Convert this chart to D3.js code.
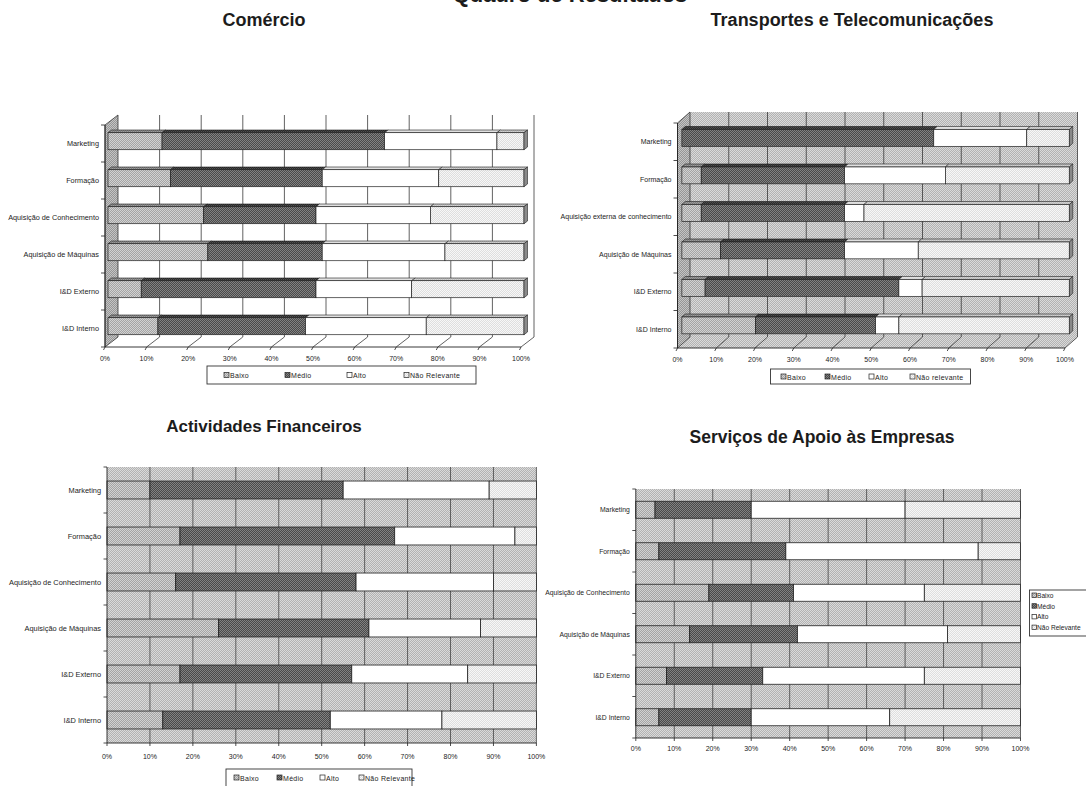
<!DOCTYPE html>
<html>
<head>
<meta charset="utf-8">
<script src="https://cdn.jsdelivr.net/npm/d3@7"></script>
<style>
  body { margin: 0; background: #fff; }
  svg { display: block; }
  text { font-family: "Liberation Sans", Arial, sans-serif; fill: #1c1c1c; }
</style>
</head>
<body>
<svg id="chart" width="1086" height="786"></svg>
<script>
// ---- data ----
const categories = ["Marketing", "Formação", "Aquisição de Conhecimento", "Aquisição de Máquinas", "I&D Externo", "I&D Interno"];
const categoriesTransportes = ["Marketing", "Formação", "Aquisição externa de conhecimento", "Aquisição de Máquinas", "I&D Externo", "I&D Interno"];
const seriesNames = ["Baixo", "Médio", "Alto", "Não Relevante"];
const seriesNamesTransportes = ["Baixo", "Médio", "Alto", "Não relevante"];
const tickValues = [0, 10, 20, 30, 40, 50, 60, 70, 80, 90, 100];

// Comércio (%)
const comercioBaixo = [13, 15, 23, 24, 8, 12];
const comercioMedio = [53.5, 36.5, 27, 27.5, 42, 35.5];
const comercioAlto = [27, 28, 27.5, 29.5, 23, 29];
const comercioNaoRelevante = [6.5, 20.5, 22.5, 19, 27, 23.5];

// Transportes e Telecomunicações (%)
const transportesBaixo = [0, 5, 5, 10, 6, 19];
const transportesMedio = [65, 37, 37, 32, 50, 31];
const transportesAlto = [24, 26, 5, 19, 6, 6];
const transportesNaoRelevante = [11, 32, 53, 39, 38, 44];

// Actividades Financeiros (%)
const financeirosBaixo = [10, 17, 16, 26, 17, 13];
const financeirosMedio = [45, 50, 42, 35, 40, 39];
const financeirosAlto = [34, 28, 32, 26, 27, 26];
const financeirosNaoRelevante = [11, 5, 10, 13, 16, 22];

// Serviços de Apoio às Empresas (%)
const servicosBaixo = [5, 6, 19, 14, 8, 6];
const servicosMedio = [25, 33, 22, 28, 25, 24];
const servicosAlto = [40, 50, 34, 39, 42, 36];
const servicosNaoRelevante = [30, 11, 25, 19, 25, 34];

// ---- setup ----
const svg = d3.select("#chart");
const defs = svg.append("defs");

function checker(id, c1, c2) {
  const p = defs.append("pattern").attr("id", id)
    .attr("width", 2).attr("height", 2).attr("patternUnits", "userSpaceOnUse");
  p.append("rect").attr("width", 2).attr("height", 2).attr("fill", c1);
  p.append("rect").attr("width", 1).attr("height", 1).attr("fill", c2);
  p.append("rect").attr("x", 1).attr("y", 1).attr("width", 1).attr("height", 1).attr("fill", c2);
}
checker("pBaixo", "#a4a4a4", "#d2d2d2");
checker("pMedio", "#4a4a4a", "#828282");
checker("pNR", "#dedede", "#f7f7f7");
checker("pBg", "#b2b2b2", "#dadada");
checker("pWall", "#969696", "#c4c4c4");

const fills = ["url(#pBaixo)", "url(#pMedio)", "#ffffff", "url(#pNR)"];
const topShade = [0.25, 0.4, 0.12, 0.15];
const fmt = d => d + "%";

function stackRows(cats, arrays, names) {
  const rows = cats.map((c, i) => {
    const r = { cat: c };
    names.forEach((n, k) => { r[n] = arrays[k][i]; });
    return r;
  });
  return d3.stack().keys(names)(rows);
}

function title(txt, x, y, size) {
  svg.append("text").attr("x", x).attr("y", y).attr("text-anchor", "middle")
    .attr("font-size", size).attr("font-weight", "bold").attr("fill", "#111").text(txt);
}

function legendRow(names, xs, boxX, boxY, boxW, boxH, textY) {
  const g = svg.append("g");
  g.append("rect").attr("x", boxX).attr("y", boxY).attr("width", boxW).attr("height", boxH)
    .attr("fill", "#fff").attr("stroke", "#333").attr("stroke-width", 0.9);
  names.forEach((n, k) => {
    g.append("rect").attr("x", xs[k]).attr("y", textY - 5.5).attr("width", 5).attr("height", 5)
      .attr("fill", fills[k]).attr("stroke", "#222").attr("stroke-width", 0.7);
    g.append("text").attr("x", xs[k] + 6).attr("y", textY).attr("font-size", 7)
      .attr("letter-spacing", 0.3).text(n);
  });
}

// ---- 3D stacked bars ----
function draw3D(cfg) {
  const g = svg.append("g");
  const x = d3.scaleLinear().domain([0, 100]).range([cfg.ax0, cfg.ax1]);
  const y = d3.scaleBand().domain(cfg.cats).range([cfg.yTop, cfg.yBot]);
  const { dx, dy } = cfg;

  // walls and floor
  g.append("rect").attr("x", x(0) + dx).attr("y", cfg.yTop + dy)
    .attr("width", x(100) - x(0)).attr("height", cfg.yBot - cfg.yTop).attr("fill", cfg.backFill);
  g.append("polygon").attr("points", [
    [x(0), cfg.yBot], [x(100), cfg.yBot], [x(100) + dx, cfg.yBot + dy], [x(0) + dx, cfg.yBot + dy]
  ].join(" ")).attr("fill", cfg.floorFill);
  g.append("polygon").attr("points", [
    [x(0), cfg.yTop], [x(0) + dx, cfg.yTop + dy], [x(0) + dx, cfg.yBot + dy], [x(0), cfg.yBot]
  ].join(" ")).attr("fill", cfg.wallFill).attr("stroke", "#333").attr("stroke-width", 0.8);

  // gridlines on back wall and floor
  g.selectAll(".gb").data(tickValues.slice(1)).join("line")
    .attr("x1", d => x(d) + dx).attr("x2", d => x(d) + dx)
    .attr("y1", cfg.yTop + dy).attr("y2", cfg.yBot + dy)
    .attr("stroke", "#3a3a3a").attr("stroke-width", 0.8);
  g.selectAll(".gf").data(tickValues.slice(1)).join("line")
    .attr("x1", d => x(d)).attr("x2", d => x(d) + dx)
    .attr("y1", cfg.yBot).attr("y2", cfg.yBot + dy)
    .attr("stroke", "#3a3a3a").attr("stroke-width", 0.8);

  // axes
  g.append("line").attr("x1", x(0)).attr("x2", x(0)).attr("y1", cfg.yTop).attr("y2", cfg.yBot)
    .attr("stroke", "#222").attr("stroke-width", 0.9);
  g.append("line").attr("x1", x(0)).attr("x2", x(100)).attr("y1", cfg.yBot).attr("y2", cfg.yBot)
    .attr("stroke", "#222").attr("stroke-width", 0.9);
  const bounds = d3.range(cfg.cats.length + 1).map(i => cfg.yTop + i * y.step());
  g.selectAll(".tl").data(bounds).join("line")
    .attr("x1", x(0) - 4).attr("x2", x(0)).attr("y1", d => d).attr("y2", d => d)
    .attr("stroke", "#222").attr("stroke-width", 0.8);
  g.selectAll(".tb").data(tickValues).join("line")
    .attr("x1", d => x(d)).attr("x2", d => x(d) - 1.5).attr("y1", cfg.yBot).attr("y2", cfg.yBot + 3)
    .attr("stroke", "#222").attr("stroke-width", 0.8);
  g.selectAll(".tx").data(tickValues).join("text")
    .attr("x", d => x(d)).attr("y", cfg.yBot + 13.5).attr("text-anchor", "middle")
    .attr("font-size", 7).text(fmt);
  g.selectAll(".cl").data(cfg.cats).join("text")
    .attr("x", x(0) - 6).attr("y", d => y(d) + y.step() / 2 + 2.5).attr("text-anchor", "end")
    .attr("font-size", cfg.labelSize).text(d => d);

  // bars
  const stacked = stackRows(cfg.cats, cfg.series, cfg.names);
  const bh = y.bandwidth() * cfg.barFrac;
  const ox = cfg.f1 * dx, oy = cfg.f1 * dy;
  const ddx = (cfg.f2 - cfg.f1) * dx, ddy = (cfg.f2 - cfg.f1) * dy;
  stacked.forEach((layer, k) => {
    layer.forEach(d => {
      if (d[1] - d[0] <= 0) return;
      const cat = d.data.cat;
      const x0 = x(d[0]) + ox, x1 = x(d[1]) + ox;
      const yt = y(cat) + y.bandwidth() / 2 + oy - bh / 2;
      const topPts = [[x0, yt], [x1, yt], [x1 + ddx, yt + ddy], [x0 + ddx, yt + ddy]].join(" ");
      g.append("polygon").attr("points", topPts).attr("fill", fills[k])
        .attr("stroke", "#222").attr("stroke-width", 0.6);
      g.append("polygon").attr("points", topPts).attr("fill", "#000").attr("fill-opacity", topShade[k]);
      g.append("rect").attr("x", x0).attr("y", yt).attr("width", x1 - x0).attr("height", bh)
        .attr("fill", fills[k]).attr("stroke", "#222").attr("stroke-width", 0.7);
      if (k === stacked.length - 1) {
        g.append("polygon").attr("points", [[x1, yt], [x1 + ddx, yt + ddy], [x1 + ddx, yt + ddy + bh], [x1, yt + bh]].join(" "))
          .attr("fill", "#8a8a8a").attr("stroke", "#222").attr("stroke-width", 0.6);
      }
    });
  });
}

// ---- flat stacked bars ----
function draw2D(cfg) {
  const g = svg.append("g");
  const x = d3.scaleLinear().domain([0, 100]).range([cfg.x0, cfg.x1]);
  const y = d3.scaleBand().domain(cfg.cats).range([cfg.yTop, cfg.yBot]);

  g.append("rect").attr("x", x(0)).attr("y", cfg.yTop).attr("width", x(100) - x(0))
    .attr("height", cfg.yBot - cfg.yTop).attr("fill", "url(#pBg)");
  g.selectAll(".gv").data(tickValues.slice(1)).join("line")
    .attr("x1", d => x(d)).attr("x2", d => x(d)).attr("y1", cfg.yTop).attr("y2", cfg.yBot)
    .attr("stroke", "#444").attr("stroke-width", 0.8);

  const stacked = stackRows(cfg.cats, cfg.series, cfg.names);
  const bh = y.bandwidth() * cfg.barFrac;
  stacked.forEach((layer, k) => {
    g.selectAll(null).data(layer.filter(d => d[1] > d[0])).join("rect")
      .attr("x", d => x(d[0])).attr("width", d => x(d[1]) - x(d[0]))
      .attr("y", d => y(d.data.cat) + (y.bandwidth() - bh) / 2).attr("height", bh)
      .attr("fill", fills[k]).attr("stroke", "#222").attr("stroke-width", 0.8);
  });

  g.append("line").attr("x1", x(0)).attr("x2", x(0)).attr("y1", cfg.yTop).attr("y2", cfg.yBot)
    .attr("stroke", "#222").attr("stroke-width", 0.9);
  g.append("line").attr("x1", x(0)).attr("x2", x(100)).attr("y1", cfg.yBot).attr("y2", cfg.yBot)
    .attr("stroke", "#222").attr("stroke-width", 0.9);
  const bounds = d3.range(cfg.cats.length + 1).map(i => cfg.yTop + i * y.step());
  g.selectAll(".tl").data(bounds).join("line")
    .attr("x1", x(0) - 3.5).attr("x2", x(0)).attr("y1", d => d).attr("y2", d => d)
    .attr("stroke", "#222").attr("stroke-width", 0.8);
  g.selectAll(".tb").data(tickValues).join("line")
    .attr("x1", d => x(d)).attr("x2", d => x(d)).attr("y1", cfg.yBot).attr("y2", cfg.yBot + 3)
    .attr("stroke", "#222").attr("stroke-width", 0.8);
  g.selectAll(".tx").data(tickValues).join("text")
    .attr("x", d => x(d)).attr("y", cfg.tickY).attr("text-anchor", "middle")
    .attr("font-size", 7).text(fmt);
  g.selectAll(".cl").data(cfg.cats).join("text")
    .attr("x", x(0) - 6).attr("y", d => y(d) + y.step() / 2 + 2.5).attr("text-anchor", "end")
    .attr("font-size", cfg.labelSize).text(d => d);
}

// ---- titles ----
title("Quadro de Resultados", 570, 2, 22);
title("Comércio", 264, 26, 18);
title("Transportes e Telecomunicações", 852, 26, 18);
title("Actividades Financeiros", 264, 432, 17);
title("Serviços de Apoio às Empresas", 822, 443, 17.5);

// ---- panels ----
draw3D({
  cats: categories, names: seriesNames,
  series: [comercioBaixo, comercioMedio, comercioAlto, comercioNaoRelevante],
  ax0: 105, ax1: 521, yTop: 125, yBot: 347, dx: 13, dy: -10, f1: 0.23, f2: 0.5, barFrac: 0.46,
  backFill: "#ffffff", floorFill: "#ffffff", wallFill: "url(#pWall)", labelSize: 7.3
});
legendRow(seriesNames, [224, 285, 347, 404], 207, 366, 269, 18, 378);

draw3D({
  cats: categoriesTransportes, names: seriesNamesTransportes,
  series: [transportesBaixo, transportesMedio, transportesAlto, transportesNaoRelevante],
  ax0: 677.5, ax1: 1065, yTop: 123, yBot: 348, dx: 12.5, dy: -11, f1: 0.35, f2: 0.62, barFrac: 0.45,
  backFill: "url(#pBg)", floorFill: "url(#pBg)", wallFill: "url(#pWall)", labelSize: 7
});
legendRow(seriesNamesTransportes, [781, 825, 869, 910], 770.5, 369, 200, 15, 379.5);

draw2D({
  cats: categories, names: seriesNames,
  series: [financeirosBaixo, financeirosMedio, financeirosAlto, financeirosNaoRelevante],
  x0: 107, x1: 536.4, yTop: 467, yBot: 743, barFrac: 0.39, tickY: 758.5, labelSize: 7.4
});
legendRow(seriesNames, [234, 277, 320, 359], 226, 769, 186, 24, 780.5);

draw2D({
  cats: categories, names: seriesNames,
  series: [servicosBaixo, servicosMedio, servicosAlto, servicosNaoRelevante],
  x0: 635.8, x1: 1020.5, yTop: 489, yBot: 738, barFrac: 0.41, tickY: 750.5, labelSize: 6.8
});

// vertical legend beside the last panel
(function () {
  const g = svg.append("g");
  g.append("rect").attr("x", 1029.5).attr("y", 590).attr("width", 62).attr("height", 46)
    .attr("fill", "#fff").attr("stroke", "#333").attr("stroke-width", 0.9);
  seriesNames.forEach((n, k) => {
    const ty = 598 + k * 10.7;
    g.append("rect").attr("x", 1032).attr("y", ty - 5).attr("width", 4.5).attr("height", 4.5)
      .attr("fill", fills[k]).attr("stroke", "#222").attr("stroke-width", 0.7);
    g.append("text").attr("x", 1037).attr("y", ty).attr("font-size", 6.6).text(n);
  });
})();
</script>
</body>
</html>
